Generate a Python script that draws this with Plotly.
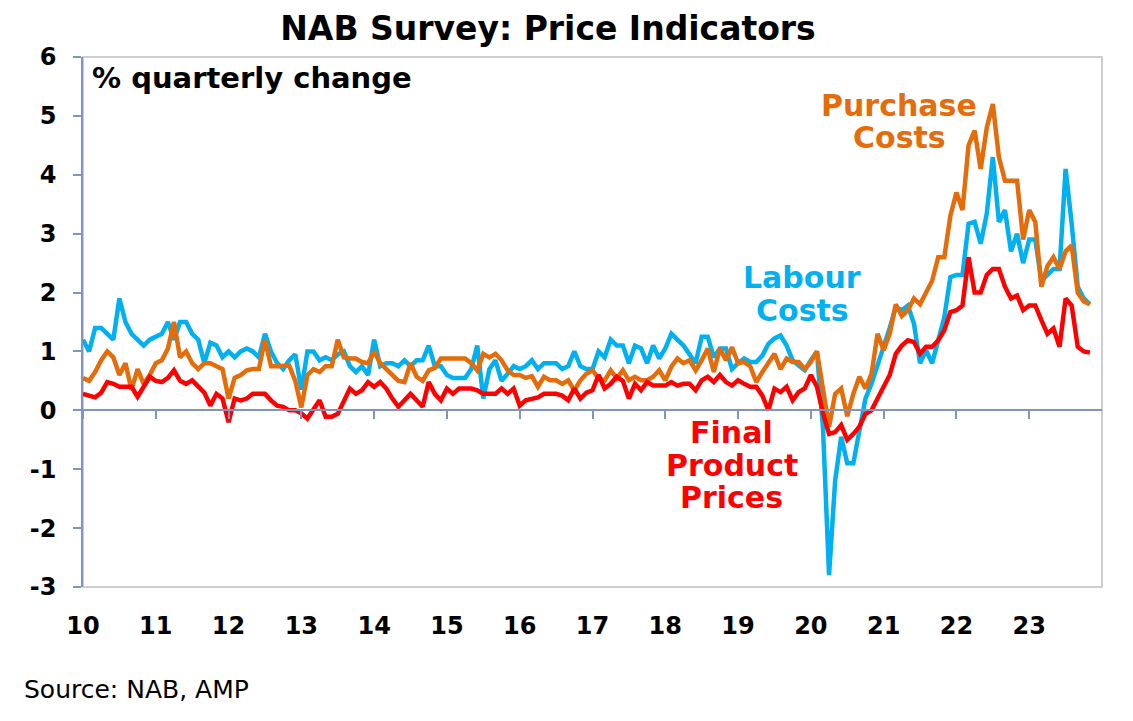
import plotly.graph_objects as go

# monthly survey readings, Jan 2010 - Nov 2023 (% quarterly change)
labour_costs = [
    1.2, 1.0, 1.4, 1.4, 1.3, 1.2, 1.9, 1.5, 1.3, 1.2, 1.1, 1.2,
    1.25, 1.3, 1.5, 1.2, 1.5, 1.5, 1.3, 1.2, 0.8, 1.15, 1.1, 0.9,
    1.0, 0.9, 1.0, 1.05, 1.0, 0.9, 1.3, 1.0, 0.8, 0.7, 0.85, 0.95,
    0.35, 1.0, 1.0, 0.85, 0.9, 0.85, 0.95, 1.0, 0.75, 0.65, 0.75, 0.6,
    1.2, 0.75, 0.8, 0.8, 0.75, 0.85, 0.75, 0.85, 0.85, 1.1, 0.75, 0.75,
    0.6, 0.55, 0.55, 0.55, 0.7, 1.1, 0.2, 0.7, 0.85, 0.5, 0.62, 0.75,
    0.7, 0.75, 0.85, 0.7, 0.8, 0.8, 0.8, 0.7, 0.75, 1.0, 0.75, 0.7,
    0.7, 1.0, 0.9, 1.2, 1.1, 1.1, 0.8, 1.1, 1.05, 0.8, 1.1, 0.88,
    1.05, 1.3, 1.2, 1.1, 0.95, 0.8, 1.25, 1.25, 0.9, 1.05, 1.05, 0.7,
    0.8, 0.88, 0.82, 0.82, 0.93, 1.13, 1.22, 1.27, 1.1, 0.85, 0.76, 0.68,
    0.85, 1.0, -0.3, -2.8, -1.2, -0.45, -0.9, -0.9, -0.35, 0.2, 0.45, 0.75,
    1.1, 1.4, 1.75, 1.7, 1.78, 1.47, 0.8, 1.02, 0.8, 1.2, 1.58, 2.26,
    2.3, 2.3, 3.17, 3.2, 2.83, 3.34, 4.3, 3.2, 3.4, 2.7, 3.0, 2.5,
    2.9, 2.9, 2.2, 2.3, 2.4, 2.4, 4.1, 3.17, 2.1, 1.9, 1.8,
]

purchase_costs = [
    0.55, 0.5, 0.65, 0.85, 1.0, 0.9, 0.6, 0.8, 0.35, 0.7, 0.45, 0.6,
    0.8, 0.85, 1.05, 1.5, 0.9, 1.0, 0.8, 0.7, 0.8, 0.8, 0.75, 0.7,
    0.2, 0.55, 0.6, 0.68, 0.7, 0.7, 1.2, 0.75, 0.75, 0.76, 0.76, 0.5,
    0.05, 0.6, 0.7, 0.65, 0.75, 0.75, 1.2, 0.9, 0.88, 0.88, 0.82, 0.8,
    1.0, 0.8, 0.7, 0.62, 0.5, 0.48, 0.8, 0.57, 0.5, 0.68, 0.72, 0.88,
    0.88, 0.88, 0.88, 0.88, 0.8, 0.68, 0.96, 0.9, 0.96, 0.85, 0.68, 0.6,
    0.6, 0.55, 0.58, 0.4, 0.57, 0.51, 0.51, 0.45, 0.51, 0.34, 0.51, 0.62,
    0.68, 0.54, 0.51, 0.68, 0.54, 0.68, 0.51, 0.57, 0.51, 0.51, 0.57, 0.68,
    0.51, 0.74, 0.88, 0.8, 0.85, 0.68, 0.85, 1.05, 0.65, 1.05, 0.85, 1.07,
    0.8, 0.82, 0.75, 0.48, 0.65, 0.8, 0.96, 0.7, 0.88, 0.82, 0.82, 0.7,
    0.82, 1.0, 0.34, -0.28, 0.28, 0.37, -0.1, 0.28, 0.57, 0.37, 0.62, 1.3,
    1.02, 1.3, 1.8, 1.6, 1.7, 1.9, 1.8, 2.0, 2.2, 2.6, 2.6, 3.3,
    3.7, 3.4, 4.5, 4.75, 4.1, 4.8, 5.2, 4.3, 3.9, 3.9, 3.9, 2.9,
    3.4, 3.2, 2.1, 2.45, 2.6, 2.4, 2.7, 2.8, 2.0, 1.85, 1.8,
]

final_prices = [
    0.28, 0.25, 0.22, 0.3, 0.48, 0.45, 0.4, 0.4, 0.4, 0.23, 0.4, 0.57,
    0.5, 0.48, 0.55, 0.68, 0.5, 0.45, 0.51, 0.4, 0.3, 0.08, 0.28, 0.2,
    -0.2, 0.2, 0.17, 0.2, 0.28, 0.28, 0.28, 0.17, 0.08, 0.06, 0.0, 0.0,
    -0.05, -0.14, 0.0, 0.17, -0.11, -0.11, -0.06, 0.14, 0.37, 0.28, 0.34, 0.48,
    0.4, 0.48, 0.37, 0.2, 0.06, 0.17, 0.28, 0.17, 0.06, 0.48, 0.28, 0.17,
    0.37, 0.28, 0.37, 0.37, 0.37, 0.34, 0.28, 0.28, 0.28, 0.37, 0.28, 0.37,
    0.08, 0.17, 0.2, 0.22, 0.28, 0.28, 0.28, 0.25, 0.17, 0.37, 0.2, 0.3,
    0.34, 0.6, 0.37, 0.45, 0.57, 0.5, 0.2, 0.45, 0.34, 0.48, 0.42, 0.42,
    0.42, 0.48, 0.42, 0.45, 0.45, 0.34, 0.51, 0.57, 0.48, 0.6, 0.48, 0.42,
    0.51, 0.45, 0.4, 0.4, 0.25, 0.0, 0.37, 0.31, 0.4, 0.17, 0.31, 0.37,
    0.6, 0.4, -0.05, -0.4, -0.37, -0.25, -0.5, -0.4, -0.28, -0.06, 0.0, 0.2,
    0.4, 0.6, 0.96, 1.1, 1.19, 1.16, 0.96, 1.08, 1.08, 1.19, 1.36, 1.67,
    1.7, 1.78, 2.6, 2.0, 2.0, 2.3, 2.4, 2.4, 2.1, 1.9, 1.95, 1.7,
    1.78, 1.78, 1.53, 1.3, 1.39, 1.08, 1.9, 1.78, 1.08, 1.0, 0.98,
]

start_year = 2010
months = [start_year + i / 12 for i in range(len(labour_costs))]

year_ticks = list(range(2010, 2024))
year_labels = [str(y)[2:] for y in year_ticks]
y_ticks = [-3, -2, -1, 0, 1, 2, 3, 4, 5, 6]
y_labels = [str(v) for v in y_ticks]

BLUE = '#00B0F0'
ORANGE = '#E46C0A'
RED = '#FF0000'
AXIS = '#8094C0'
FONT = 'DejaVu Sans'
LW = 4.5

fig = go.Figure()
fig.add_trace(go.Scatter(x=months, y=labour_costs, mode='lines', name='Labour Costs',
                         line=dict(color=BLUE, width=LW)))
fig.add_trace(go.Scatter(x=months, y=purchase_costs, mode='lines', name='Purchase Costs',
                         line=dict(color=ORANGE, width=LW)))
# final prices sit on the zero-crossing axis so that axis gets drawn
fig.add_trace(go.Scatter(x=months, y=final_prices, mode='lines', name='Final Product Prices',
                         line=dict(color=RED, width=LW), xaxis='x2'))

bold = dict(family=FONT, color='black', weight='bold')

# page body adds an 8px offset, so the figure is 8px smaller than the window
fig.update_layout(
    width=1125, height=713,
    margin=dict(l=75, r=31, t=49, b=134),
    plot_bgcolor='white', paper_bgcolor='white',
    showlegend=False,
    title=dict(text='NAB Survey: Price Indicators', x=0.48, xref='container', xanchor='center',
               y=0.972, yref='container', yanchor='middle', font=dict(size=33, **bold)),
    xaxis=dict(range=[2010, 2024], tickvals=year_ticks, ticktext=year_labels, showline=False,
               ticks='', showgrid=False, zeroline=False, tickfont=dict(size=24, **bold),
               ticklabelstandoff=22),
    xaxis2=dict(range=[2010, 2024], overlaying='x', anchor='free', position=1 / 3,
                tickvals=year_ticks, showticklabels=False, ticks='outside', ticklen=8,
                tickwidth=1.5, tickcolor=AXIS, showline=True, linecolor=AXIS, linewidth=1.5,
                showgrid=False, zeroline=False),
    yaxis=dict(range=[-3, 6], tickvals=y_ticks, ticktext=y_labels, ticks='outside', ticklen=8,
               tickwidth=1.5, tickcolor=AXIS, showline=True, linecolor=AXIS, linewidth=1.5,
               showgrid=False, zeroline=False, tickfont=dict(size=24, **bold),
               ticklabelstandoff=12),
)

fig.add_shape(type='rect', xref='paper', yref='paper', x0=0, x1=1, y0=0, y1=1,
              line=dict(color='#BFBFBF', width=1.5), layer='below')

labels = [
    ('Purchase', 2021.21, 5.18, ORANGE),
    ('Costs', 2021.22, 4.63, ORANGE),
    ('Labour', 2019.88, 2.26, BLUE),
    ('Costs', 2019.88, 1.70, BLUE),
    ('Final', 2018.91, -0.37, RED),
    ('Product', 2018.91, -0.93, RED),
    ('Prices', 2018.91, -1.48, RED),
]
for text, lx, ly, col in labels:
    fig.add_annotation(x=lx, y=ly, text=text, showarrow=False, xanchor='center', yanchor='middle',
                       font=dict(family=FONT, size=30, color=col, weight='bold'))

fig.add_annotation(x=0.007, y=0.96, xref='paper', yref='paper', text='% quarterly change',
                   showarrow=False, xanchor='left', yanchor='middle', font=dict(size=29, **bold))
fig.add_annotation(x=-0.06, y=-0.194, xref='paper', yref='paper', text='Source: NAB, AMP',
                   showarrow=False, xanchor='left', yanchor='middle',
                   font=dict(family=FONT, size=25, color='black'))

fig.write_html("out.html")
